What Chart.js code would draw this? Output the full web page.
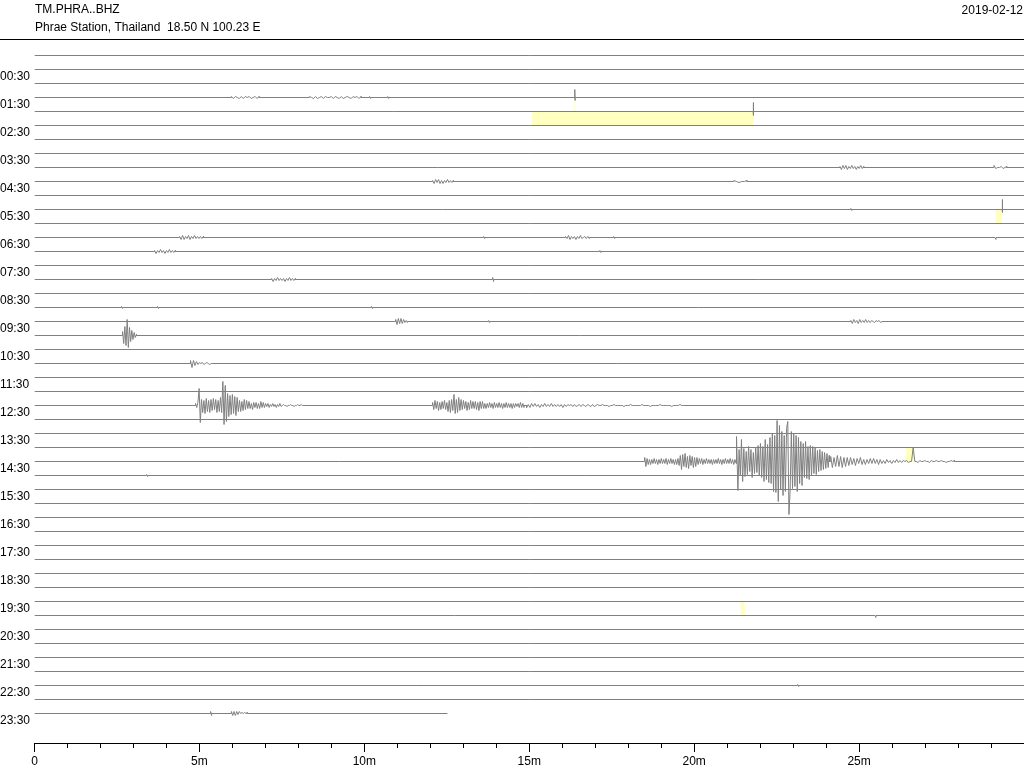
<!DOCTYPE html>
<html lang="en">
<head>
<meta charset="UTF-8">
<title>TM.PHRA..BHZ - 2019-02-12</title>
<script src="https://cdn.jsdelivr.net/npm/chart.js"></script>
<style>
    html, body { margin: 0; padding: 0; background: #fff; }
    canvas { display: block; }
</style>
</head>
<body>
<canvas id="heli" width="1024" height="768"></canvas>
<script>
// header texts
const stationName = 'TM.PHRA..BHZ';
const stationInfo = 'Phrae Station, Thailand  18.50 N 100.23 E';
const dayLabel = '2019-02-12';

// one row = 30 minutes, labels on every second row (the :30 rows)
const hourLabels = ['00:30', '01:30', '02:30', '03:30', '04:30', '05:30', '06:30', '07:30',
    '08:30', '09:30', '10:30', '11:30', '12:30', '13:30', '14:30', '15:30', '16:30', '17:30',
    '18:30', '19:30', '20:30', '21:30', '22:30', '23:30'];
const minuteTicks = [0, 5, 10, 15, 20, 25];
const minuteLabels = ['0', '5m', '10m', '15m', '20m', '25m'];

const rowCount = 48;
const rowMinutes = 30;
const lastRowEnd = 12.52;   // data stops here on the last row
const unitsPerRow = 14;     // deflection units per row spacing (up = positive)

// larger waveforms (deflections)
const w1230a = [2, -2, 3, 17, -17, 6, -7, 5, -8, 7, -6, 5, -7, 6, -5, 7, -4, 6, -7, 5,
    -6, 8, -7, 24, -19, 20, -16, 12, -11, 10, -9, 11, -8, 9, -10, 8,
    -6, 5, -6, 4, -5, 6, -4, 5, -3, 4, -3, 2, -4, 3, -2, 3, -3, 2, -3, 4, -2, 3, -2,
    2, -1, 2, -2, 1, -1, 2, -1, 1, -2, 1, -1, 2, -1,
    0, 1, 0, 0, -1, 0, 0, 1, 0, 0, -1, 0, 0, 1, 0, 0, 1, 0];
const w1230b = [3, -4, 5, -3, 4, -5, 3, -4, 4, -3, 5, -4, 3,
    -6, 5, -7, 6, -5, 11, -8, 6, -7, 8, -5, 6,
    -4, 5, -3, 4, -5, 3, -4, 5, -3, 4, -3, 4, -4, 3, -5, 4, -3, 4, -3,
    2, -3, 2, -2, 3, -2, 2, -3, 3, -2, 2, -2, 3, -2, 2, -3, 2, -2, 3, -2, 2, -2, 2, -3, 2, -2,
    2, -1, 2, -2, 3, -2, 2, -2];
const w1230c = [-2, 1, -2, 2, -1, 2, -1, 1, -2, 1, -1, 2, -1, 1, -1, 2, -1, 1, -1, 1,
    -1, 1, -2, 1, -1, 1, 0, 1, -1, 1, -1, 0, 1, -1, 1, 0, -1, 1, 0, -1, 1, -1, 0, 1,
    0, 0, 1, 0, 0, 0, -1, 0, 0, 1, 0, 0, 0, 0, 0, -1, 0, 0, 0, 1, 0, 0, 0, 0, 0, 0, 1, 0, 0, 0,
    0, -1, 0, 0, 0, 0, 0, 1, 0, 0, 0, 0, 0, 0, -1, 0, 0, 0, 0, 1, 0, 0];
const w1430a = [4, -5, 3, -3, 2, -3, 2, -2, 3, -2, 2, -3, 2, -2, 3, -2, 2, -2, 3, -3, 2, -2,
    3, -2, 2, -3, 2, -3, 3,
    -4, 6, -8, 7, -5, 8, -6, 5, -7, 6, -4, 5, -6, 4, -5, 4, -3,
    3, -2, 3, -3, 2, -2, 3, -2, 2, -2, 2, -3, 2, -2, 2, -2, 3, -2, 2, -3, 2, -2, 3, -2,
    2, -2, 3, -2, 2, -3, 2, -2];
const w1430b = [25, -29, 12, -14, 22, -20, 13, -15,
    10, -13, 15, -10, 12, -16, 9, -12, 14, -11, 16, -14,
    18, -16, 15, -20, 22, -18, 17, -21, 24, -22, 28, -30, 26, -31, 41, -40, 36,
    -28, 30, -34, 26, -30, 33, 40, -53,
    -28, 30, -27, 28, -25, 26, -30, 24, -22, 20,
    -24, 18, -16, 20, -17, 15, -18, 16, -14, 15, -12, 14, -13,
    11, -10, 12, -9, 10, -8, 9, -7, 8, -6, 6];
const w1430c = [5, -6, 4, -5, 6, -5, 5, -6, 4, -5, 4, -4,
    4, -3, 3, -4, 3, -2, 4, -3, 2, -3, 2, -2, 3, -2, 3, -2, 2, -3,
    2, -2, 1, -2, 2, -1, 1, -2, 1, -1, 2, -1, 1, -1, 1,
    0, 1, -1, 0, 0, 14, 0, 0, -1, 1, 0, 0, 1, 0, 0, -1, 1, 0, 0, 1, 0, 0, 1, 0, 0, -1, 0, 0, 1, 0, 1];

// [row, start minute, sample step (min), deflections]
const events = [
    [3, 5.97, 0.06, [1, -1, 1, 0, -1, 1, -1, 1, 0, 1, -1, 0, 1, -1, 1]],
    [3, 8.34, 0.06, [1, 0, -1, 1, -1, 0, 1, -1, 1, 0, 0, 1, -1, 1, 0, -1, 1, -1, 0, 1, 0, -1, 1, 0, 1, -1, 1]],
    [3, 10.16, 0.03, [1, -1]],
    [3, 10.71, 0.03, [1, -1]],
    [3, 16.38, 0.01, [8, -3]],
    [4, 21.79, 0.01, [9, -4]],
    [8, 24.42, 0.045, [1, -2, 2, -1, 2, -2, 1, -1, 2, -1, 1, -2, 1, -1, 2, -1, 1]],
    [8, 29.09, 0.055, [2, -1, 0, 0, 1, -1, 0, 1]],
    [9, 12.07, 0.045, [1, -2, 2, -1, 2, -2, 1, -2, 1, -1, 2, -1, 1, -1, 1]],
    [9, 21.2, 0.08, [1, 0, -1, 0, 0, 1]],
    [11, 24.75, 0.03, [1, -1]],
    [11, 29.34, 0.01, [10, -3]],
    [13, 4.40, 0.045, [1, -2, 2, -2, 1, -1, 2, -2, 1, -1, 2, -1, 1, -1, 1, -1, 1]],
    [13, 13.62, 0.03, [1, -1]],
    [13, 16.10, 0.045, [1, -1, 2, -2, 1, -1, 1, -2, 1, -1, 2, -1, 0, 1, -1, 1, -1]],
    [13, 17.56, 0.03, [1, -1]],
    [13, 29.12, 0.03, [0, -2]],
    [14, 3.64, 0.045, [1, -2, 1, -1, 2, -1, 1, -2, 1, -1, 2, -1, 1, -1, 1]],
    [14, 17.14, 0.03, [1, -1]],
    [16, 7.19, 0.045, [1, -2, 1, -1, 2, -1, 1, -1, 1, -2, 1, -1, 2, -1, 1, -1, 1]],
    [16, 13.89, 0.03, [2, -2]],
    [18, 2.64, 0.03, [1, -1]],
    [18, 3.73, 0.03, [1, -1]],
    [18, 10.22, 0.03, [1, -1]],
    [19, 10.95, 0.04, [2, -3, 3, -2, 3, -2, 2, -1, 1, -1]],
    [19, 13.77, 0.03, [1, -1]],
    [19, 24.75, 0.045, [1, -2, 2, -1, 1, -2, 2, -1, 1, -1, 2, -1, 1, -1, 1, 0, -1, 1, 0, 1, -1, 0]],
    [20, 2.67, 0.035, [4, -8, 9, -10, 16, -12, 8, -6, 5, -4, 3, -2, 1]],
    [22, 4.73, 0.045, [3, -4, 3, -2, 2, -1, 1, 0, 1, -1, 0, 1, 0, -1, 0]],
    [25, 4.883, 0.036, w1230a],
    [25, 12.07, 0.036, w1230b],
    [25, 14.92, 0.05, w1230c],
    [29, 18.50, 0.036, w1430a],
    [29, 21.29, 0.036, w1430b],
    [29, 24.14, 0.05, w1430c],
    [30, 3.40, 0.03, [1, -1]],
    [40, 25.48, 0.03, [0, -2]],
    [45, 23.14, 0.03, [1, -1]],
    [47, 5.34, 0.03, [2, -2]],
    [47, 5.97, 0.04, [2, -2, 2, -2, 2, -1, 2, 0, 1, 0, 1, 0, 1]]
];

// yellow marks: [row, from min, to min, top, bottom] (same units as deflections)
const highlights = [
    [3, 16.37, 16.40, -3, -15],
    [4, 15.08, 21.79, 0, -14],
    [11, 29.14, 29.32, 0, -14],
    [29, 26.42, 26.66, 14, 0],
    [39, 21.41, 21.53, 0, -14]
];

Chart.defaults.font.family = '"Liberation Sans", Arial, sans-serif';
Chart.defaults.font.size = 12;

const plotTop = 40, plotBottom = 743, firstRowPx = 55.5, rowPx = 14;
const yMin = -(firstRowPx - plotTop) / rowPx;
const yMax = yMin + (plotBottom - plotTop) / rowPx;

const datasets = [];
for (let r = 0; r < rowCount; r++) {
    const end = r === rowCount - 1 ? lastRowEnd : rowMinutes;
    const pts = [{ x: 0, y: r }];
    events.filter(e => e[0] === r).sort((a, b) => a[1] - b[1]).forEach(([row, t0, dt, wave]) => {
        pts.push({ x: t0, y: r });
        wave.forEach((v, k) => pts.push({ x: t0 + k * dt, y: r - v / unitsPerRow }));
        pts.push({ x: t0 + (wave.length - 1) * dt, y: r });
    });
    pts.push({ x: end, y: r });
    datasets.push({
        data: pts,
        borderColor: '#808080',
        borderWidth: 1,
        borderJoinStyle: 'bevel',
        pointRadius: 0,
        tension: 0,
        fill: false
    });
}

const heliDecor = {
    id: 'heliDecor',
    beforeDatasetsDraw(chart) {
        const ctx = chart.ctx, xs = chart.scales.x, ys = chart.scales.y;
        ctx.save();
        ctx.fillStyle = '#ffffc0';
        highlights.forEach(([row, a, b, top, bot]) => {
            const x0 = xs.getPixelForValue(a), x1 = xs.getPixelForValue(b);
            const y0 = ys.getPixelForValue(row - top / unitsPerRow);
            const y1 = ys.getPixelForValue(row - bot / unitsPerRow);
            ctx.fillRect(x0, Math.min(y0, y1), x1 - x0, Math.abs(y1 - y0));
        });
        ctx.restore();
    },
    afterDraw(chart) {
        const ctx = chart.ctx, xs = chart.scales.x, ys = chart.scales.y;
        ctx.save();
        ctx.fillStyle = '#000';
        ctx.font = '12px "Liberation Sans", Arial, sans-serif';
        ctx.textBaseline = 'alphabetic';
        ctx.textAlign = 'left';
        ctx.fillText(stationName, 35, 13);
        ctx.fillText(stationInfo, 35, 31);
        ctx.textAlign = 'right';
        ctx.fillText(dayLabel, 1023, 14);
        ctx.fillRect(0, 39, 1024, 1);
        // hour labels
        ctx.textAlign = 'left';
        hourLabels.forEach((lab, k) => {
            ctx.fillText(lab, 0, ys.getPixelForValue(2 * k + 1) + 10);
        });
        // longer ticks at every 5 minutes
        ctx.strokeStyle = '#000';
        ctx.lineWidth = 1;
        const b = chart.chartArea.bottom;
        minuteTicks.forEach(m => {
            const x = Math.round(xs.getPixelForValue(m) - 0.5) + 0.5;
            ctx.beginPath();
            ctx.moveTo(x, b);
            ctx.lineTo(x, b + 9);
            ctx.stroke();
        });
        ctx.restore();
    }
};

new Chart(document.getElementById('heli'), {
    type: 'line',
    data: { datasets: datasets },
    options: {
        responsive: false,
        animation: false,
        devicePixelRatio: 1,
        events: [],
        layout: { padding: { left: 34.5, right: 0, top: plotTop, bottom: 0 } },
        plugins: { legend: { display: false }, tooltip: { enabled: false } },
        scales: {
            x: {
                type: 'linear',
                min: 0,
                max: rowMinutes,
                position: 'bottom',
                afterFit: (s) => {
                    s.height = 768 - plotBottom;
                    s.paddingLeft = 0;
                    s.paddingRight = 0;
                },
                grid: { drawOnChartArea: false, drawTicks: true, tickLength: 5, tickColor: '#000', tickWidth: 1 },
                border: { display: true, color: '#000', width: 1 },
                ticks: {
                    stepSize: 1,
                    autoSkip: false,
                    maxRotation: 0,
                    padding: 6,
                    color: '#000',
                    callback: (v) => {
                        const i = minuteTicks.indexOf(v);
                        return i >= 0 ? minuteLabels[i] : '';
                    }
                }
            },
            y: { type: 'linear', display: false, reverse: true, min: yMin, max: yMax }
        }
    },
    plugins: [heliDecor]
});
</script>
</body>
</html>
